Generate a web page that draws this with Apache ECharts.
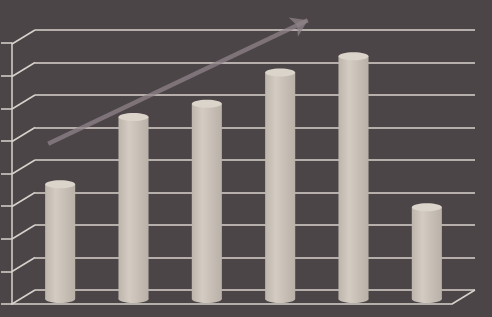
<!DOCTYPE html>
<html>
<head>
    <meta charset="UTF-8">
    <title>Cylinder bars</title>
    <script src="https://cdn.jsdelivr.net/npm/echarts@6/dist/echarts.min.js"></script>
    <style>
        * { margin: 0; padding: 0; }
        body { background: #4b4548; }
        #chart { width: 492px; height: 317px; }
    </style>
</head>
<body>
    <div id="chart"></div>
    <script>
        // data
        var categories = ['1', '2', '3', '4', '5', '6'];
        var barValues = [3.5, 5.55, 5.95, 6.9, 7.4, 2.8];
        var yTicks = [0, 1, 2, 3, 4, 5, 6, 7, 8];
        // trend arrow, in back-wall units (x 0..1, y 0..8)
        var trendFrom = [0.03, 4.5];
        var trendTo = [0.62, 8.3];

        // depth of the 3D frame, px
        var DX = 23, DY = 14;
        var lineColor = '#d8d2cc';

        // connectors from front ticks to the back wall, plus the floor's right edge
        var connectors = yTicks.map(function (v) { return [0, v]; });
        connectors.push([1, 0]);

        function renderConnector(params, api) {
            var p = api.coord([api.value(0), api.value(1)]);
            return {
                type: 'line',
                shape: { x1: p[0] - DX, y1: p[1] + DY, x2: p[0], y2: p[1] },
                style: { stroke: lineColor, lineWidth: 1.5 }
            };
        }

        function renderCylinder(params, api) {
            var base = api.coord([api.value(0), 0]);
            var top = api.coord([api.value(0), api.value(1)]);
            var w = api.size([1, 0])[0] * 0.41;
            var rx = w / 2, ry = 4;
            var body = new echarts.graphic.LinearGradient(0, 0, 1, 0, [
                { offset: 0, color: '#bdb5ab' },
                { offset: 0.35, color: '#d4ccc3' },
                { offset: 1, color: '#b9b1a7' }
            ]);
            return {
                type: 'group',
                children: [
                    { type: 'ellipse', shape: { cx: base[0], cy: base[1], rx: rx, ry: ry }, style: { fill: body } },
                    { type: 'rect', shape: { x: top[0] - rx, y: top[1], width: w, height: base[1] - top[1] }, style: { fill: body } },
                    { type: 'ellipse', shape: { cx: top[0], cy: top[1], rx: rx, ry: ry }, style: { fill: '#dbd4cb' } }
                ]
            };
        }

        var chart = echarts.init(document.getElementById('chart'));
        chart.setOption({
            backgroundColor: '#4b4548',
            animation: false,
            grid: [
                { left: 35, right: 17, top: 30, bottom: 27 },   // back wall
                { left: 12, right: 40, top: 43, bottom: 13 },   // front
                { left: 23.5, right: 28.5, top: 36.5, bottom: 18 } // bars, mid depth
            ],
            xAxis: [
                { gridIndex: 0, type: 'value', min: 0, max: 1, show: false },
                {
                    gridIndex: 1, type: 'category', data: categories,
                    axisLine: { lineStyle: { color: lineColor, width: 1.5 } },
                    axisTick: { inside: true, length: 3, lineStyle: { color: lineColor } },
                    axisLabel: { show: false }
                },
                { gridIndex: 2, type: 'category', data: categories, show: false }
            ],
            yAxis: [
                {
                    gridIndex: 0, type: 'value', min: 0, max: 8, interval: 1,
                    axisLine: { show: false }, axisTick: { show: false }, axisLabel: { show: false },
                    splitLine: { lineStyle: { color: lineColor, width: 1.5 } }
                },
                {
                    gridIndex: 1, type: 'value', min: 0, max: 8, interval: 1,
                    axisLine: { show: true, lineStyle: { color: lineColor, width: 1.5 } },
                    axisTick: { show: true, length: 11, lineStyle: { color: lineColor, width: 1.5 } },
                    axisLabel: { show: false }, splitLine: { show: false }
                },
                { gridIndex: 2, type: 'value', min: 0, max: 8, show: false }
            ],
            series: [
                {
                    type: 'custom', xAxisIndex: 0, yAxisIndex: 0,
                    renderItem: renderConnector, data: connectors, clip: false
                },
                {
                    type: 'custom', xAxisIndex: 2, yAxisIndex: 2,
                    renderItem: renderCylinder, clip: false,
                    data: barValues.map(function (v, i) { return [i, v]; })
                },
                {
                    type: 'lines', coordinateSystem: 'cartesian2d', xAxisIndex: 0, yAxisIndex: 0,
                    clip: false,
                    symbol: ['none', 'arrow'], symbolSize: 16,
                    lineStyle: { color: '#8f8389', width: 4.5, opacity: 0.75 },
                    data: [{ coords: [trendFrom, trendTo] }]
                }
            ]
        });
    </script>
</body>
</html>
